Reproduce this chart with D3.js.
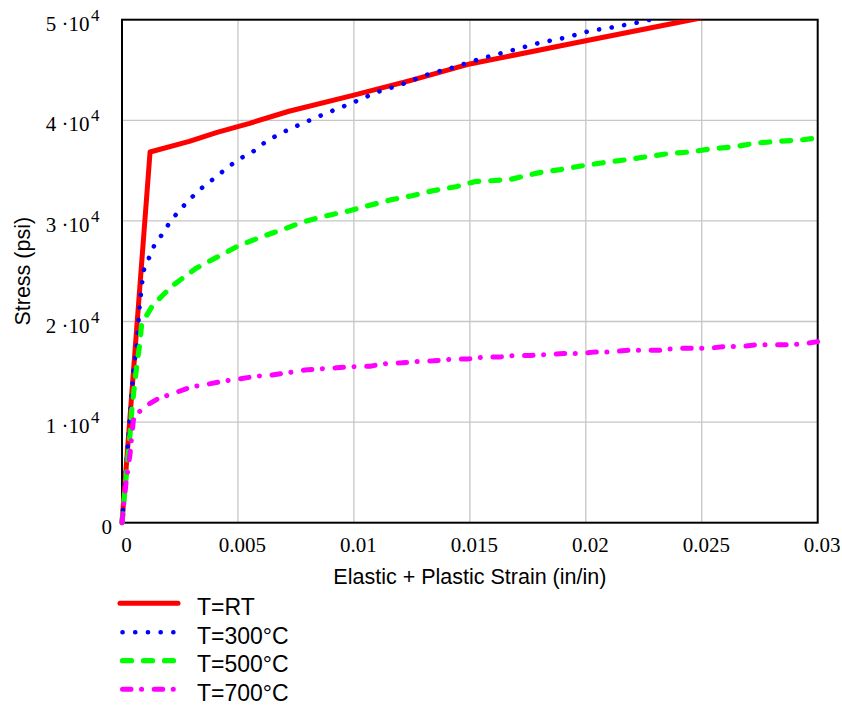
<!DOCTYPE html>
<html>
<head>
<meta charset="utf-8">
<script src="https://cdn.jsdelivr.net/npm/d3@7"></script>
<style>
  html, body { margin: 0; padding: 0; background: #fff; }
  svg { display: block; }
</style>
</head>
<body>
<svg id="chart" width="842" height="706"></svg>
<script>
// ---- data (strain in/in, stress psi) ----
const seriesNames = ["T=RT", "T=300\u00B0C", "T=500\u00B0C", "T=700\u00B0C"];

const strainRT = [0, 0.00121, 0.0029, 0.0041, 0.0055, 0.0072, 0.0100, 0.0125, 0.0150, 0.0200, 0.0250];
const stressRT = [0, 36850, 37900, 38800, 39700, 40900, 42500, 44000, 45600, 47900, 50200];

const strain300 = [0, 0.00049, 0.00063, 0.00075, 0.00092, 0.00116, 0.00138, 0.00177, 0.0021, 0.0025, 0.0029, 0.0034, 0.0039, 0.0045, 0.0050, 0.0056, 0.0061, 0.0066, 0.0072, 0.0077, 0.0088, 0.0099, 0.0110, 0.0121, 0.0131, 0.0142, 0.0153, 0.0159, 0.0169, 0.0180, 0.0191, 0.0202, 0.0213, 0.0224, 0.0235];
const stress300 = [0, 15100, 17500, 21300, 25000, 26300, 27500, 28800, 30000, 31100, 32100, 33200, 34100, 35200, 36100, 36800, 37700, 38400, 39100, 39600, 40700, 41700, 42800, 43600, 44500, 45200, 46000, 46400, 47000, 47700, 48200, 48900, 49300, 49800, 50400];

const strain500 = [0, 0.00035, 0.00042, 0.00053, 0.00063, 0.00075, 0.00085, 0.00135, 0.0022, 0.0032, 0.0041, 0.0050, 0.0060, 0.0070, 0.0078, 0.0088, 0.0098, 0.0106, 0.0116, 0.0125, 0.0134, 0.0144, 0.0152, 0.0167, 0.0180, 0.0189, 0.0199, 0.0208, 0.0218, 0.0227, 0.0236, 0.0245, 0.0255, 0.0264, 0.0272, 0.0282, 0.0291, 0.0300];
const stress500 = [0, 8900, 11200, 13500, 15500, 17500, 19800, 21700, 23600, 25300, 26400, 27500, 28400, 29200, 29900, 30500, 31000, 31500, 32100, 32500, 33000, 33400, 33900, 34100, 34800, 35100, 35500, 35800, 36100, 36400, 36700, 36850, 37200, 37350, 37700, 37900, 38000, 38250];

const strain700 = [0, 0.00017, 0.00035, 0.00049, 0.00056, 0.00092, 0.00157, 0.00229, 0.0030, 0.00372, 0.00444, 0.00509, 0.00581, 0.00646, 0.00725, 0.00789, 0.00861, 0.00926, 0.00998, 0.0107, 0.01142, 0.01207, 0.01278, 0.01343, 0.01422, 0.01487, 0.01558, 0.01626, 0.01698, 0.01764, 0.01839, 0.01904, 0.01975, 0.02043, 0.02115, 0.02181, 0.02253, 0.02321, 0.02393, 0.0246, 0.02533, 0.02601, 0.02673, 0.02738, 0.02809, 0.02877, 0.02953, 0.0300];
const stress700 = [0, 3900, 6900, 10200, 10530, 11460, 12360, 12910, 13510, 13780, 14100, 14300, 14570, 14670, 14940, 15170, 15300, 15400, 15500, 15560, 15830, 15890, 16030, 16090, 16260, 16260, 16460, 16460, 16630, 16630, 16720, 16820, 16820, 16980, 16980, 17150, 17150, 17150, 17350, 17350, 17350, 17520, 17520, 17680, 17680, 17680, 17820, 18000];

const xTicks = [0, 0.005, 0.01, 0.015, 0.02, 0.025, 0.03];
const xTickLabels = ["0", "0.005", "0.01", "0.015", "0.02", "0.025", "0.03"];
const yTicks = [0, 10000, 20000, 30000, 40000, 50000];
const yTickMantissa = ["0", "1", "2", "3", "4", "5"];

const xTitle = "Elastic + Plastic Strain (in/in)";
const yTitle = "Stress (psi)";

// ---- layout ----
const L = 122, R = 817.7, T = 19.7, B = 522.7;
const svg = d3.select("#chart");
const x = d3.scaleLinear().domain([0, 0.03]).range([L, R]);
const y = d3.scaleLinear().domain([0, 50000]).range([B, T]);

const serif = "'Liberation Serif','Times New Roman',serif";
const sans = "'Liberation Sans',Arial,sans-serif";

// grid
const grid = svg.append("g");
grid.selectAll(".vx").data(xTicks.slice(1, -1)).join("line")
  .attr("x1", d => x(d)).attr("x2", d => x(d)).attr("y1", T).attr("y2", B)
  .attr("stroke", "#c6c6c6").attr("stroke-width", 1.3);
grid.selectAll(".hy").data(yTicks.slice(1, -1)).join("line")
  .attr("x1", L).attr("x2", R).attr("y1", d => y(d)).attr("y2", d => y(d))
  .attr("stroke", "#c6c6c6").attr("stroke-width", 1.3);

// frame
svg.append("rect").attr("x", L).attr("y", T).attr("width", R - L).attr("height", B - T)
  .attr("fill", "none").attr("stroke", "#000").attr("stroke-width", 2);

// x tick labels
svg.append("g").selectAll("text").data(xTicks).join("text")
  .attr("x", d => x(d) + 4.5).attr("y", 552)
  .attr("text-anchor", "middle")
  .style("font-family", serif).style("font-size", "21px").attr("fill", "#000")
  .text((d, i) => xTickLabels[i]);

// y tick labels
const yl = svg.append("g");
yTicks.forEach((v, i) => {
  if (v === 0) {
    yl.append("text").attr("x", 112).attr("y", y(v) + 11).attr("text-anchor", "end")
      .style("font-family", serif).style("font-size", "21px").text(yTickMantissa[i]);
  } else {
    const t = yl.append("text").attr("x", 99.5).attr("y", y(v) + 11).attr("text-anchor", "end")
      .style("font-family", serif).style("font-size", "21px");
    t.append("tspan").text(yTickMantissa[i] + " \u00B710");
    t.append("tspan").attr("dy", -10).attr("dx", 1.5).style("font-size", "17px").text("4");
  }
});

// axis titles
svg.append("text").attr("x", (L + R) / 2 + 0).attr("y", 584).attr("text-anchor", "middle")
  .style("font-family", sans).style("font-size", "21.5px").text(xTitle);
svg.append("text").attr("transform", "translate(30," + ((T + B) / 2) + ") rotate(-90)")
  .attr("text-anchor", "middle")
  .style("font-family", sans).style("font-size", "21.5px").text(yTitle);

// clip
svg.append("defs").append("clipPath").attr("id", "clip")
  .append("rect").attr("x", L - 4).attr("y", T).attr("width", R - L + 8).attr("height", B - T + 4);

const styles = [
  { color: "#ff0000", width: 5, dash: null, cap: "butt" },
  { color: "#0000ff", width: 4.6, dash: "0.1,12.6", cap: "round" },
  { color: "#00ff00", width: 5.2, dash: "9,12", cap: "round" },
  { color: "#ff00ff", width: 5, dash: "8.5,10.5,0.1,12.6", cap: "round" }
];
const allSeries = [
  strainRT.map((s, i) => [s, stressRT[i]]),
  strain300.map((s, i) => [s, stress300[i]]),
  strain500.map((s, i) => [s, stress500[i]]),
  strain700.map((s, i) => [s, stress700[i]])
];

const line = d3.line().x(d => x(d[0])).y(d => y(d[1]));
const lines = svg.append("g").attr("clip-path", "url(#clip)");
allSeries.forEach((data, i) => {
  const st = styles[i];
  lines.append("path").attr("d", line(data)).attr("fill", "none")
    .attr("stroke", st.color).attr("stroke-width", st.width)
    .attr("stroke-linecap", st.cap).attr("stroke-linejoin", "round")
    .attr("stroke-dasharray", st.dash);
});

// legend
const legY = [603.3, 632.3, 660.7, 689.3];
const leg = svg.append("g");
seriesNames.forEach((name, i) => {
  const st = styles[i];
  const lx1 = i === 0 ? 120 : 122.5, lx2 = i === 0 ? 178 : 177;
  leg.append("line").attr("x1", lx1).attr("x2", lx2).attr("y1", legY[i]).attr("y2", legY[i])
    .attr("stroke", st.color).attr("stroke-width", st.width)
    .attr("stroke-linecap", i === 0 ? "round" : st.cap)
    .attr("stroke-dasharray", st.dash);
  leg.append("text").attr("x", 197).attr("y", legY[i] + 11.7)
    .style("font-family", sans).style("font-size", "23px").text(name);
});
</script>
</body>
</html>
